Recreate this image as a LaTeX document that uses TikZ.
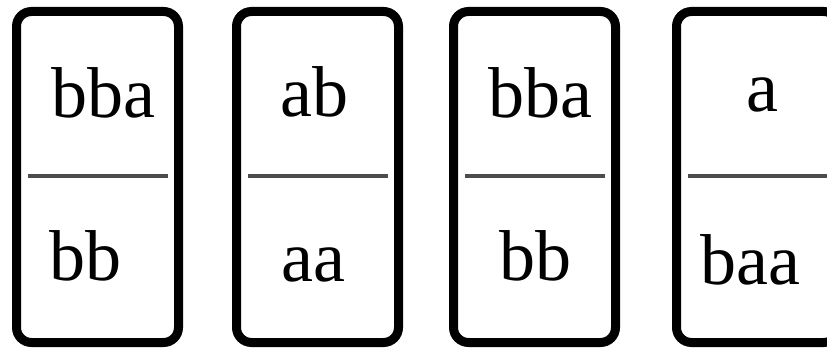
\documentclass[tikz,border=0pt]{standalone}
\usepackage{fontspec}
\setmainfont{Liberation Serif}
\begin{document}
\begin{tikzpicture}[x=1pt,y=1pt,
  domino/.style={draw=black, line width=9pt, rounded corners=15pt, minimum width=162pt, minimum height=331pt, inner sep=0pt},
  divider/.style={draw=black!70, line width=3.5pt},
  lab/.style={anchor=base, inner sep=0pt, font=\fontsize{72}{80}\selectfont}]
\clip (0,0) rectangle (827,348);
\fill[white] (0,0) rectangle (827,348);
% dominoes
\node[domino] (d1) at (97.5,171) {};
\node[domino] (d2) at (317.5,171) {};
\node[domino] (d3) at (534.5,171) {};
\node[domino] (d4) at (757.5,171) {};
% dividers
\foreach \d/\s in {d1/0, d2/0.5, d3/0.5, d4/0} {
  \draw[divider] ([xshift=-70pt+\s pt, yshift=1pt]\d.center) -- ([xshift=70pt+\s pt, yshift=1pt]\d.center);
}
% labels
\node[lab] (t1) at (103.5,230) {bba};
\node[lab] (b1) at (85,67) {bb};
\node[lab] (t2) at (314.5,231) {ab};
\node[lab] (b2) at (313.5,66) {aa};
\node[lab] (t3) at (540.5,230) {bba};
\node[lab] (b3) at (535,67) {bb};
\node[lab] (t4) at (762,236) {a};
\node[lab] (b4) at (750,63) {baa};
\end{tikzpicture}
\end{document}
